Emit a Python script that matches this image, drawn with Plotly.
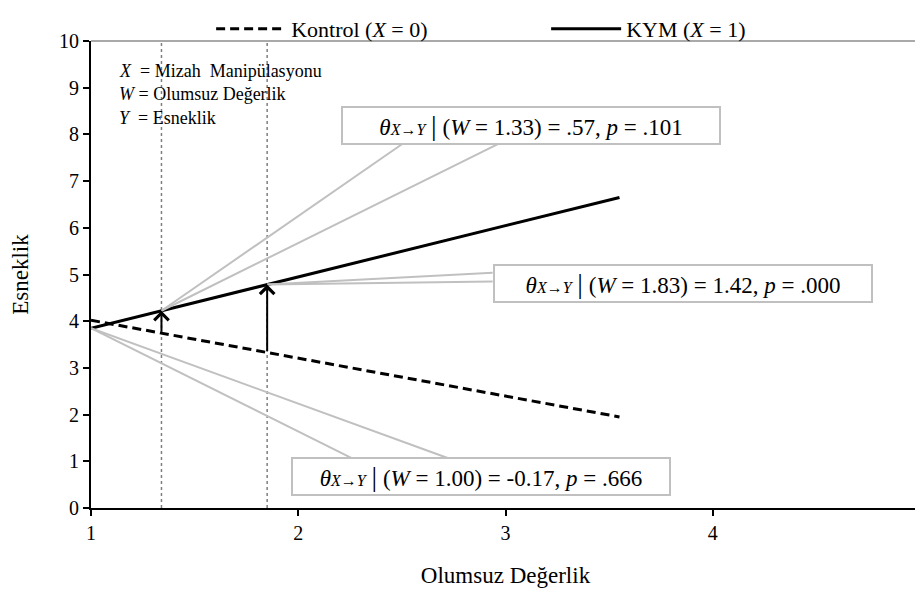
import plotly.graph_objects as go

# Olumsuz Değerlik (W) aralığı ve yordanan Esneklik değerleri
w_line = [1.0, 3.55]
kontrol = [4.02, 1.95]
kym = [3.85, 6.65]

# koşullu etkiler (W'nin yoklandığı değerler)
w_probe = [1.00, 1.34, 1.85]
w_label = ["1.00", "1.33", "1.83"]
effect = ["-0.17", ".57", "1.42"]
p_val = [".666", ".101", ".000"]

x_ticks = [1, 2, 3, 4, 5]
y_ticks = list(range(0, 11))

FONT = "Liberation Serif, Times New Roman, serif"
GRAY = "#c0c0c0"


def on_line(w, ys):
    return ys[0] + (ys[1] - ys[0]) * (w - w_line[0]) / (w_line[1] - w_line[0])


fig = go.Figure()

fig.add_trace(go.Scatter(
    x=w_line, y=kontrol, mode="lines",
    name="Kontrol (<i>X</i> = 0)",
    line=dict(color="black", width=3, dash="9px,5px"),
))
fig.add_trace(go.Scatter(
    x=w_line, y=kym, mode="lines",
    name="KYM (<i>X</i> = 1)",
    line=dict(color="black", width=3),
))

shapes = []
annotations = []

# dikey noktalı çizgiler + oklar
for w in w_probe[1:]:
    shapes.append(dict(type="line", xref="x", yref="paper", x0=w, x1=w, y0=0, y1=1,
                       line=dict(color="#7f7f7f", width=1.5, dash="dot"), layer="below"))
    annotations.append(dict(
        x=w, y=on_line(w, kym), ax=w, ay=on_line(w, kontrol),
        xref="x", yref="y", axref="x", ayref="y", text="",
        showarrow=True, arrowhead=4, arrowsize=1.4, arrowwidth=2, arrowcolor="black",
    ))

# açıklama kutuları: merkez (x, y) ve kama bağlantı noktaları
box_pos = [(2.880, 0.674), (3.122, 8.19), (3.855, 4.80)]
wedge_pts = [
    [(2.258, 1.07), (2.721, 1.07)],
    [(2.50, 7.79), (2.963, 7.79)],
    [(2.938, 5.04), (2.938, 4.85)],
]

for i, w in enumerate(w_probe):
    ty = on_line(w, kym)
    for (px, py) in wedge_pts[i]:
        shapes.append(dict(type="line", xref="x", yref="y", x0=w, y0=ty, x1=px, y1=py,
                           line=dict(color=GRAY, width=2)))
    txt = ("<i>θ</i><span style='font-size:16px'><i>X→Y</i></span> "
           "<span style='font-size:28px'>|</span> (<i>W</i> = " + w_label[i] + ") = "
           + effect[i] + ", <i>p</i> = " + p_val[i])
    annotations.append(dict(
        x=box_pos[i][0], y=box_pos[i][1], xref="x", yref="y", text=txt, showarrow=False,
        font=dict(family=FONT, size=23, color="black"),
        bgcolor="white", bordercolor=GRAY, borderwidth=2, borderpad=1,
        width=374, height=33,
    ))

# sol üst açıklama metni
legend_lines = ["<i>X</i>  = Mizah  Manipülasyonu", "<i>W</i> = Olumsuz Değerlik", "<i>Y</i>  = Esneklik"]
for i, t in enumerate(legend_lines):
    annotations.append(dict(
        x=(117 - 91) / 829, y=(500 - 63 - i * 23.4) / 467, xref="paper", yref="paper", text=t,
        showarrow=False, xanchor="left", yanchor="middle",
        font=dict(family=FONT, size=18, color="black"),
    ))

# çizim alanı üst çerçevesi
shapes.append(dict(type="line", xref="paper", yref="paper", x0=0, x1=1.01, y0=1, y1=1,
                   line=dict(color="#8c8c8c", width=1.5)))

fig.update_layout(
    width=915, height=589,
    margin=dict(l=83, r=3, t=33, b=89, autoexpand=False),
    paper_bgcolor="white", plot_bgcolor="white",
    font=dict(family=FONT, size=20, color="black"),
    shapes=shapes, annotations=annotations,
    showlegend=True,
    legend=dict(orientation="h", xref="container", yref="container",
                x=0.222, xanchor="left", y=1.0, yanchor="top",
                font=dict(family=FONT, size=22), itemwidth=70, entrywidth=250,
                bgcolor="rgba(0,0,0,0)"),
    xaxis=dict(range=[1, 5], tickvals=x_ticks, showgrid=False, zeroline=False,
               showline=True, linecolor="black", linewidth=2,
               ticks="outside", ticklen=6, tickwidth=1.5, tickcolor="black",
               tickfont=dict(size=20), ticklabeloverflow="allow",
               title=dict(text="Olumsuz Değerlik", font=dict(size=23), standoff=24)),
    yaxis=dict(range=[0, 10], tickvals=y_ticks, showgrid=False, zeroline=False,
               showline=True, linecolor="black", linewidth=2,
               ticks="outside", ticklen=6, tickwidth=1.5, tickcolor="black",
               tickfont=dict(size=20),
               title=dict(text="Esneklik", font=dict(size=23), standoff=24)),
)

fig.write_html("out.html")
